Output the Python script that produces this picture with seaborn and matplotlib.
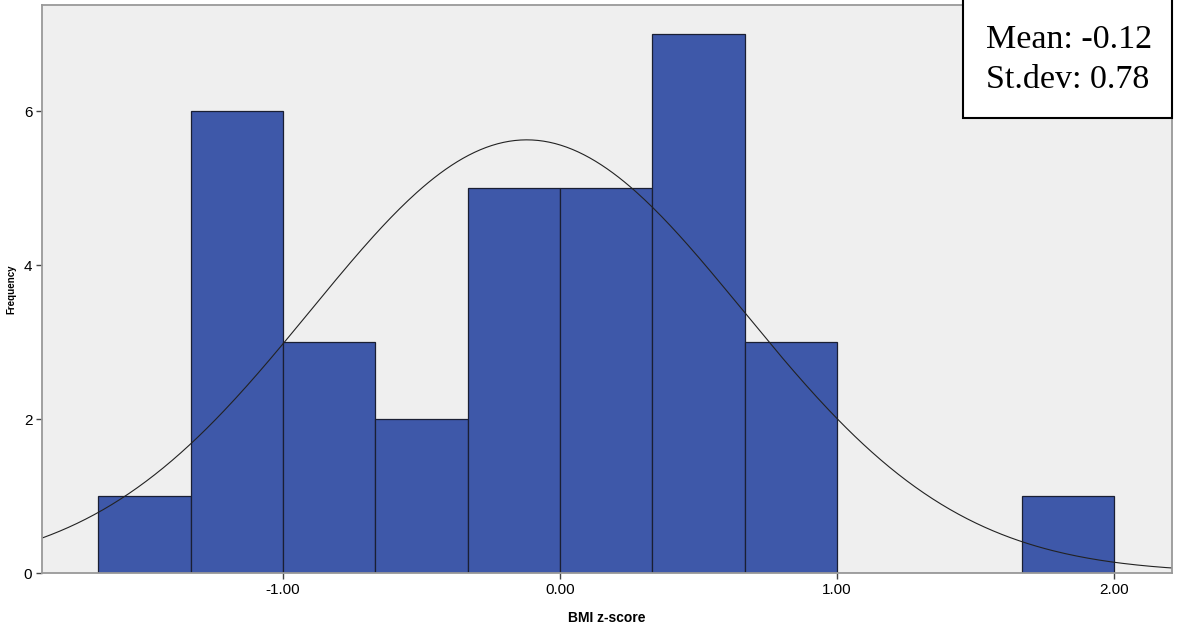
import numpy as np
import pandas as pd
import matplotlib
matplotlib.use('Agg')
import matplotlib.pyplot as plt
import seaborn as sns
from matplotlib.patches import Rectangle

# histogram bins (width 1/3) and counts
bin_edges = [-5/3, -4/3, -1.0, -2/3, -1/3, 0.0, 1/3, 2/3, 1.0, 4/3, 5/3, 2.0]
counts = [1, 6, 3, 2, 5, 5, 7, 3, 0, 0, 1]
mean_z = -0.12
sd_z = 0.78
x_ticks = [-1.0, 0.0, 1.0, 2.0]
y_ticks = [0, 2, 4, 6]

centers = [(a + b) / 2 for a, b in zip(bin_edges[:-1], bin_edges[1:])]
df = pd.DataFrame({'z': centers, 'n': counts})

sns.set_style('white', rc={'text.color': 'black', 'axes.labelcolor': 'black',
                           'xtick.color': 'black', 'ytick.color': 'black'})
plt.rcParams['font.family'] = ['Liberation Sans', 'DejaVu Sans']

fig = plt.figure(figsize=(11.88, 6.31), dpi=100)
ax = fig.add_axes([0.0354, 0.0919, 0.951, 0.9001])
ax.set_facecolor('#efefef')

sns.histplot(data=df, x='z', weights='n', bins=bin_edges, ax=ax,
             color='#3e58a9', alpha=1, edgecolor='#1a1f33', linewidth=0.9)

# fitted normal curve, scaled to counts
n_total = sum(counts)
bw = bin_edges[1] - bin_edges[0]
xs = np.linspace(-1.9, 2.25, 400)
ys = n_total * bw / (sd_z * np.sqrt(2 * np.pi)) * np.exp(-0.5 * ((xs - mean_z) / sd_z) ** 2)
sns.lineplot(x=xs, y=ys, ax=ax, color='#222222', linewidth=0.8)

ax.set_xlim(-1.870, 2.209)
ax.set_ylim(0, 7.377)
ax.set_xticks(x_ticks)
ax.set_xticklabels([f'{t:.2f}' for t in x_ticks], fontsize=11)
ax.set_yticks(y_ticks)
ax.set_yticklabels([str(t) for t in y_ticks], fontsize=11)
ax.tick_params(axis='both', direction='out', length=4, width=1, color='#444444',
               bottom=True, left=True, pad=3)
ax.set_xlabel('BMI z-score', fontsize=10, fontweight='bold', labelpad=10)
ax.set_ylabel('Frequency', fontsize=7, fontweight='bold')
ax.yaxis.set_label_coords(-0.0225, 0.5)
for s in ax.spines.values():
    s.set_color('#999999')
    s.set_linewidth(1.3)

# stats box in the top-right corner
fig.patches.append(Rectangle((0.8106, 0.813), 0.176, 0.19, transform=fig.transFigure,
                             facecolor='white', edgecolor='black', linewidth=1.5,
                             zorder=5))
fig.text(0.830, 0.924, 'Mean: -0.12', fontsize=24.5, family='Liberation Serif',
         va='baseline', ha='left', color='black', zorder=6)
fig.text(0.830, 0.861, 'St.dev: 0.78', fontsize=24.5, family='Liberation Serif',
         va='baseline', ha='left', color='black', zorder=6)

fig.savefig('out.png', dpi=100)
